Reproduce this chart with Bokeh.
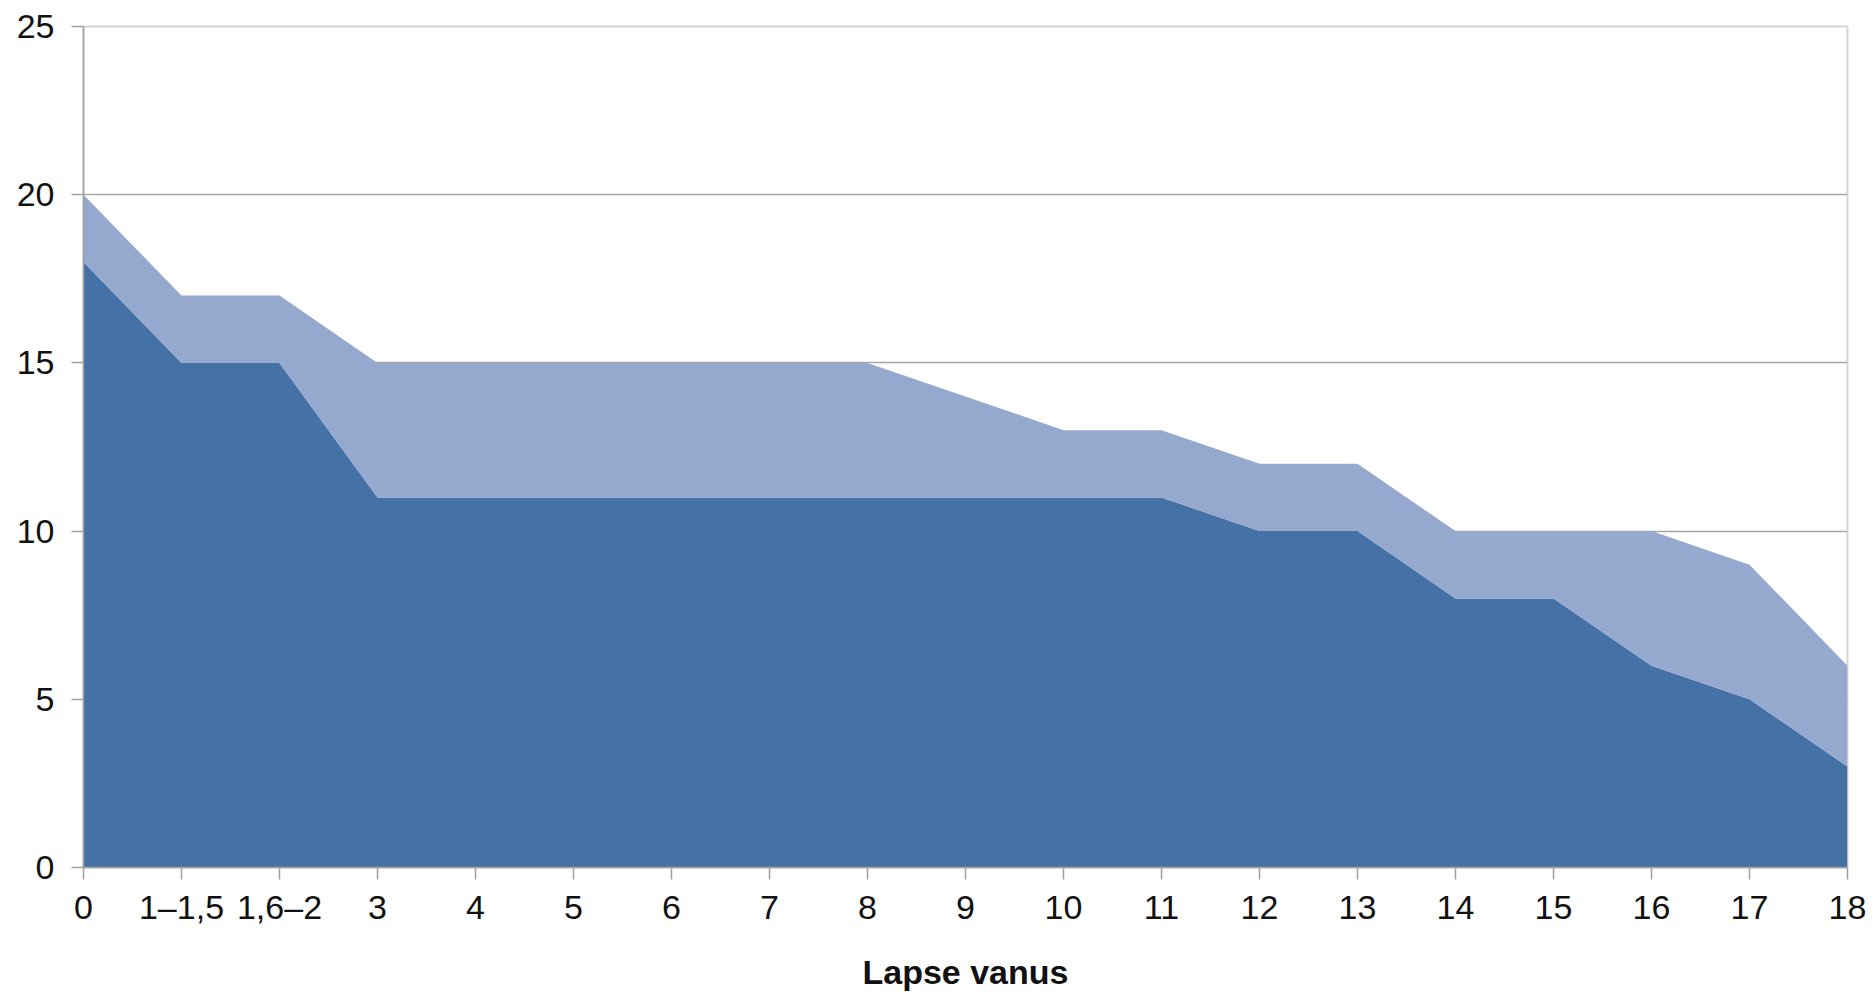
from bokeh.plotting import figure
from bokeh.models import ColumnDataSource, FixedTicker
from bokeh.embed import file_html
from bokeh.resources import INLINE

categories = ["0", "1–1,5", "1,6–2", "3", "4", "5", "6", "7", "8", "9",
              "10", "11", "12", "13", "14", "15", "16", "17", "18"]
series_dark = [18, 15, 15, 11, 11, 11, 11, 11, 11, 11, 11, 11, 10, 10, 8, 8, 6, 5, 3]
series_light = [2, 2, 2, 4, 4, 4, 4, 4, 4, 3, 2, 2, 2, 2, 2, 2, 4, 4, 3]
y_ticks = [0, 5, 10, 15, 20, 25]
x_title = "Lapse vanus"

xs = list(range(len(categories)))
source = ColumnDataSource(dict(x=xs, dark=series_dark, light=series_light))

p = figure(width=1870, height=996, output_backend="svg", toolbar_location=None,
           x_range=(0, len(categories) - 1), y_range=(0, 25),
           min_border_left=83, min_border_right=23, min_border_top=26, min_border_bottom=129)

p.varea_stack(stackers=["dark", "light"], x="x", color=["#4572A6", "#95A9CF"], source=source)

FONT = "Liberation Sans"
p.xaxis.ticker = FixedTicker(ticks=xs)
p.xaxis.major_label_overrides = {i: c for i, c in enumerate(categories)}
p.yaxis.ticker = FixedTicker(ticks=y_ticks)

for ax in (p.xaxis[0], p.yaxis[0]):
    ax.axis_line_color = "#a0a0a0"
    ax.axis_line_width = 1.5
    ax.major_tick_line_color = "#a0a0a0"
    ax.major_tick_line_width = 1.5
    ax.major_tick_in = 0
    ax.major_tick_out = 12
    ax.minor_tick_line_color = None
    ax.major_label_text_font = FONT
    ax.major_label_text_font_size = "34px"
    ax.major_label_text_color = "#111111"

p.yaxis.major_label_standoff = 17
p.xaxis.major_label_standoff = 8
p.xaxis.axis_label = x_title
p.xaxis.axis_label_text_font = FONT
p.xaxis.axis_label_text_font_style = "bold"
p.xaxis.axis_label_text_font_size = "34px"
p.xaxis.axis_label_text_color = "#111111"
p.xaxis.axis_label_standoff = 24

p.xgrid.grid_line_color = None
p.ygrid.ticker = FixedTicker(ticks=[5, 10, 15, 20])
p.ygrid.grid_line_color = "#a6a6a6"
p.ygrid.grid_line_width = 1.5

p.outline_line_color = "#d4d4d4"
p.outline_line_width = 2
p.background_fill_color = "white"
p.border_fill_color = "white"

open("out.html", "w").write(file_html(p, INLINE))
